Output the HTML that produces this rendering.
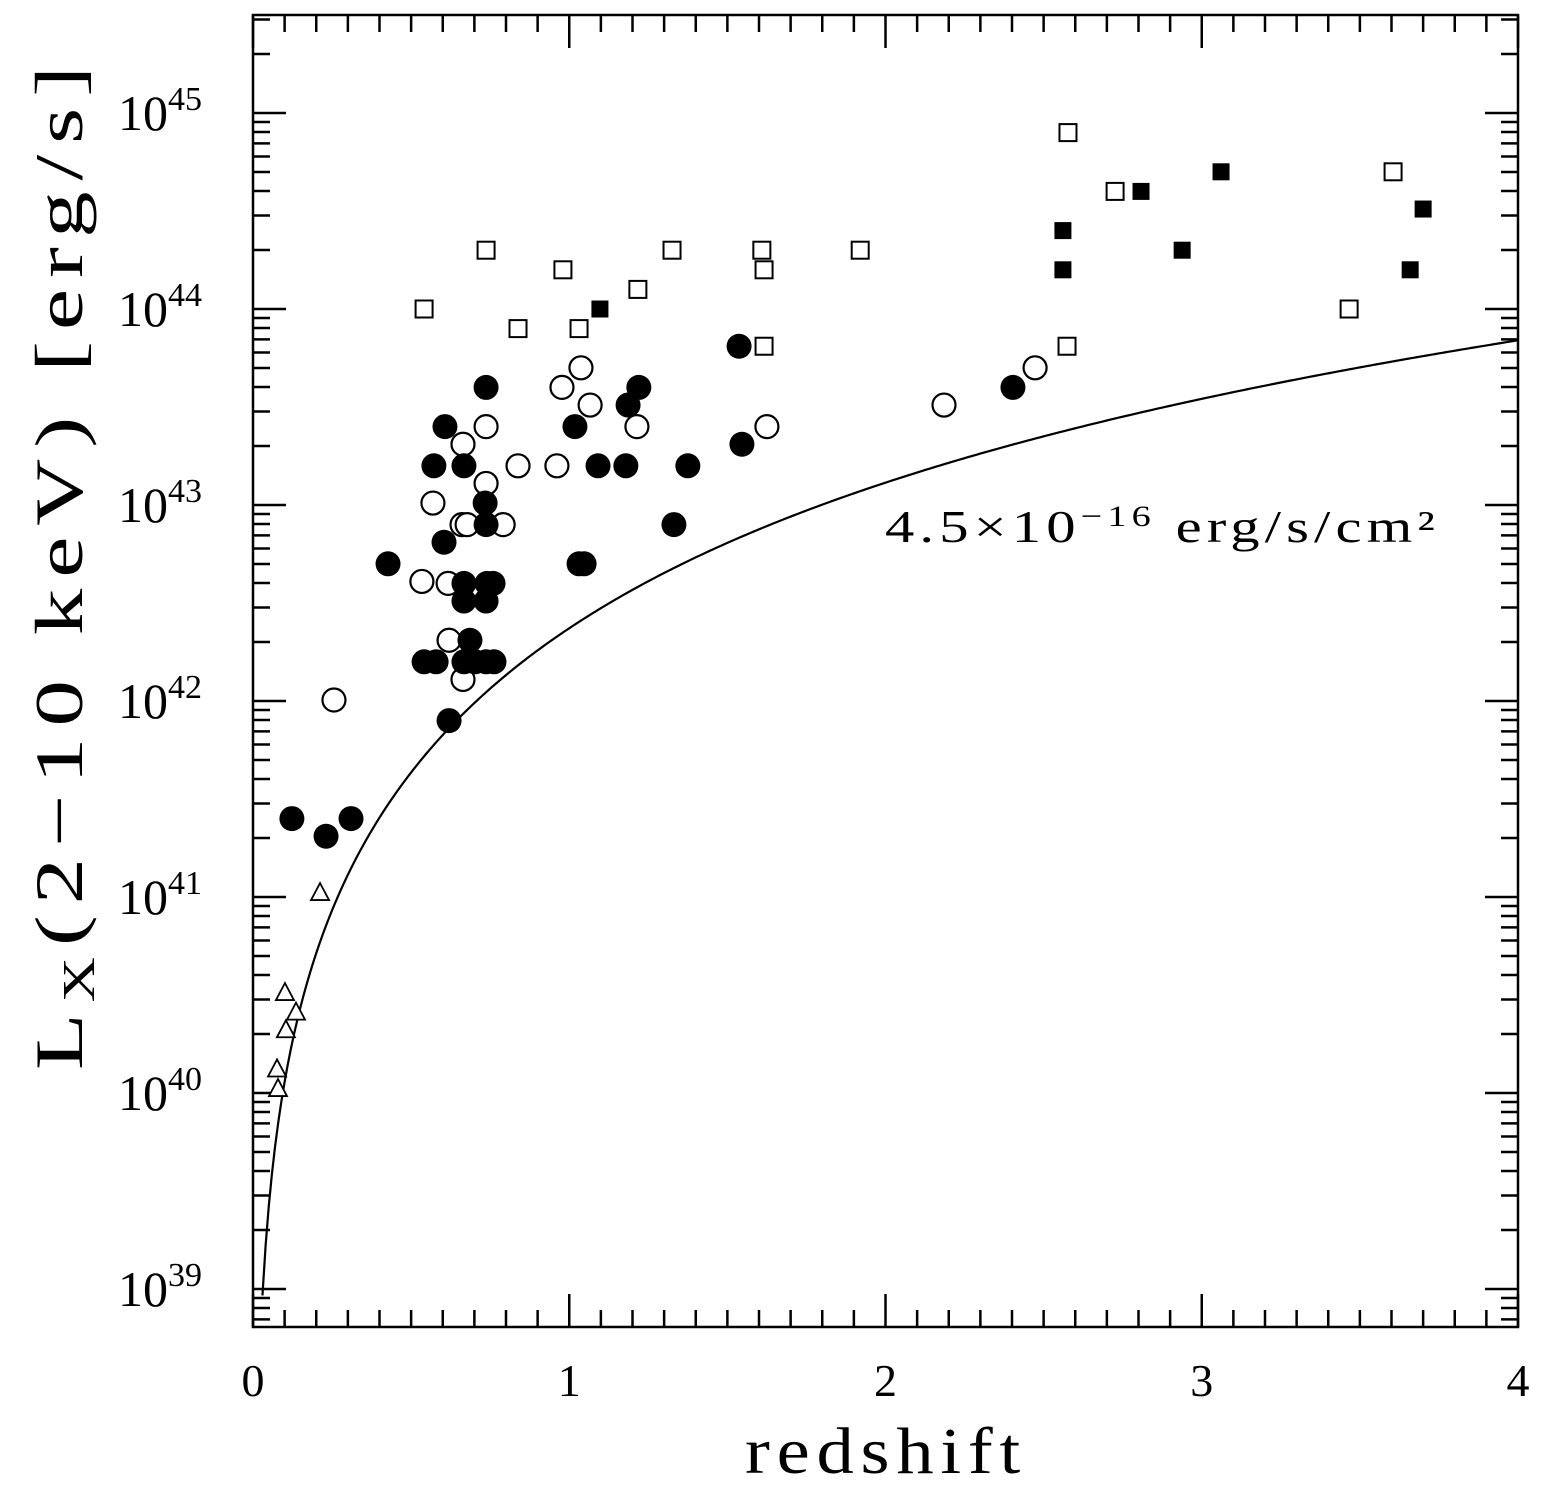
<!DOCTYPE html>
<html><head><meta charset="utf-8"><style>
html,body{margin:0;padding:0;background:#fff}
svg{display:block;font-family:"Liberation Serif",serif}
</style></head><body>
<svg id="chart" width="1542" height="1486" viewBox="0 0 1542 1486" xmlns="http://www.w3.org/2000/svg">
<rect x="0" y="0" width="1542" height="1486" fill="#fff"/>
<g id="ticks"></g>
<g id="curve-g"></g>
<g id="points"></g>
<rect x="253" y="15" width="1265" height="1312" fill="none" stroke="#000" stroke-width="2.5"/>
<g id="labels"></g>
<text x="885" y="542" font-size="46" letter-spacing="4" textLength="555" lengthAdjust="spacingAndGlyphs">4.5×10<tspan dy="-16" font-size="30">−16</tspan><tspan dy="16"> erg/s/cm²</tspan></text>
<text x="745" y="1473" font-size="66" letter-spacing="6" textLength="282" lengthAdjust="spacingAndGlyphs">redshift</text>
<text transform="translate(82,1070) rotate(-90)" font-size="68" letter-spacing="8" textLength="1015" lengthAdjust="spacingAndGlyphs">L<tspan font-size="46" dy="12">X</tspan><tspan dy="-12">(2−10 keV)  [erg/s]</tspan></text>
</svg>
<script>
const xTicks=[0,1,2,3,4];
const yDecades=[39,40,41,42,43,44,45];
const filledCirclesZ=[0.123,0.231,0.31,0.427,0.541,0.579,0.572,0.607,0.604,0.62,0.667,0.667,0.667,0.667,0.686,0.702,0.737,0.734,0.737,0.74,0.737,0.737,0.759,0.762,1.018,1.031,1.047,1.091,1.179,1.186,1.22,1.331,1.375,1.537,1.546,2.403];
const filledCirclesL=[41.40,41.31,41.40,42.70,42.20,42.20,43.20,43.40,42.81,41.90,43.20,42.60,42.51,42.20,42.31,42.20,43.60,43.01,42.90,42.60,42.51,42.20,42.60,42.20,43.40,42.70,42.70,43.20,43.20,43.51,43.60,42.90,43.20,43.81,43.31,43.60];
const openCirclesZ=[0.256,0.534,0.569,0.617,0.62,0.664,0.664,0.661,0.677,0.737,0.737,0.791,0.838,0.961,0.977,1.037,1.066,1.214,1.625,2.185,2.473];
const openCirclesL=[42.005,42.61,43.01,42.60,42.31,43.31,42.11,42.90,42.90,43.40,43.11,42.90,43.20,43.20,43.60,43.70,43.51,43.40,43.40,43.51,43.70];
const openSquaresZ=[0.541,0.737,0.838,0.98,1.031,1.217,1.325,1.609,1.616,1.616,1.92,2.577,2.574,2.726,3.466,3.605];
const openSquaresL=[44.0,44.30,43.90,44.20,43.90,44.10,44.30,44.30,44.20,43.81,44.30,44.90,43.81,44.60,44.0,44.70];
const filledSquaresZ=[1.097,2.561,2.561,2.808,2.938,3.061,3.659,3.7];
const filledSquaresL=[44.0,44.40,44.20,44.60,44.30,44.70,44.20,44.51];
const trianglesZ=[0.079,0.076,0.101,0.104,0.136,0.212];
const trianglesL=[40.02,40.12,40.51,40.32,40.41,41.02];
const fluxLimit=4.5e-16;

const NS='http://www.w3.org/2000/svg';
const X0=253,X1=1518,Y0=15,Y1=1327,ZMAX=4;
const LTOP=45+98/196,LBOT=39-38/196;
function sx(z){return X0+(X1-X0)*z/ZMAX;}
function sy(l){return Y1-(Y1-Y0)*(l-LBOT)/(LTOP-LBOT);}
function el(tag,attrs,parent){const e=document.createElementNS(NS,tag);for(const k in attrs)e.setAttribute(k,attrs[k]);parent.appendChild(e);return e;}

const tg=document.getElementById('ticks');
let d='';
for(let i=0;i<=40;i++){const z=i/10;const x=sx(z);const len=(i%10===0)?33:17;
 d+=`M${x},${Y1}v${-len}M${x},${Y0}v${len}`;}
for(let dec=38;dec<=45;dec++){for(let m=1;m<=9;m++){const l=dec+Math.log10(m);if(l<LBOT||l>LTOP)continue;const y=sy(l);const len=m===1?33:17;
 d+=`M${X0},${y}h${len}M${X1},${y}h${-len}`;}}
const tp=el('path',{d:d,stroke:'#000','stroke-width':2.5,fill:'none'},tg);



const lg=document.getElementById('labels');
xTicks.forEach(v=>{const t=el('text',{x:sx(v),y:1396,'text-anchor':'middle','font-size':46},lg);t.textContent=v;
 
 });
yDecades.forEach(v=>{const t=el('text',{x:202,y:sy(v)+17,'text-anchor':'end','font-size':50},lg);
 
 
 t.textContent='10';const s=el('tspan',{dy:-20,'font-size':34},t);s.textContent=v;});

// flux-limit curve: L = 4 pi dL^2 f, flat LCDM H0=70, Om=0.3
function dL(z){const n=400;let s=0;for(let i=0;i<n;i++){const zz=(i+0.5)*z/n;s+=1/Math.sqrt(0.3*Math.pow(1+zz,3)+0.7);}s*=z/n;return (1+z)*4282.7*3.0857e24*s;}
let cd='';
for(let i=0;i<=400;i++){const z=0.02+i*(ZMAX-0.02)/400;const L=Math.log10(4*Math.PI*Math.pow(dL(z),2)*fluxLimit);
 if(L<LBOT)continue;cd+=(cd?'L':'M')+sx(z).toFixed(2)+','+sy(L).toFixed(2);}
const cp=el('path',{d:cd,stroke:'#000','stroke-width':2.2,fill:'none'},document.getElementById('curve-g'));



const pg=document.getElementById('points');
openCirclesZ.forEach((z,i)=>{const c=el('circle',{cx:sx(z),cy:sy(openCirclesL[i]),r:11.5,fill:'#fff',stroke:'#000','stroke-width':2.2},pg);
 
 });
filledCirclesZ.forEach((z,i)=>{const c=el('circle',{cx:sx(z),cy:sy(filledCirclesL[i]),r:12.5,fill:'#000'},pg);
 
 });
openSquaresZ.forEach((z,i)=>{const c=el('rect',{x:sx(z)-8.5,y:sy(openSquaresL[i])-8.5,width:17,height:17,fill:'#fff',stroke:'#000','stroke-width':2},pg);
 
 });
filledSquaresZ.forEach((z,i)=>{const c=el('rect',{x:sx(z)-8.5,y:sy(filledSquaresL[i])-8.5,width:17,height:17,fill:'#000'},pg);
 
 });
trianglesZ.forEach((z,i)=>{const x=sx(z),y=sy(trianglesL[i]);
 const c=el('path',{d:`M${x},${y-10}L${x+9},${y+7}L${x-9},${y+7}Z`,fill:'#fff',stroke:'#000','stroke-width':1.8},pg);
 
 });
</script>
</body></html>
